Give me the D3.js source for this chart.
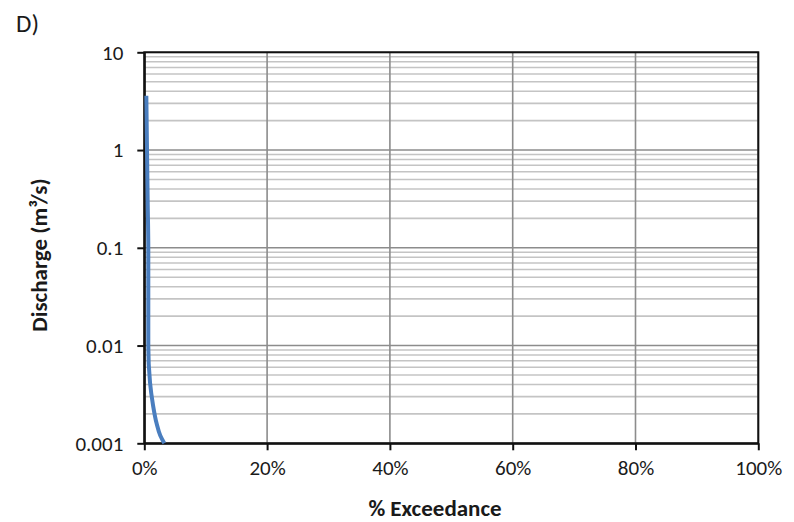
<!DOCTYPE html>
<html>
<head>
<meta charset="utf-8">
<script src="https://cdn.jsdelivr.net/npm/d3@7/dist/d3.min.js"></script>
<style>
  html, body { margin: 0; padding: 0; background: #fff; }
  svg text { font-family: Calibri, Carlito, Lato, "Open Sans", sans-serif; fill: #1a1a1a; }
</style>
</head>
<body>
<svg id="chart" width="794" height="522"></svg>
<script>
// Flow duration curve: percent of time exceeded vs discharge
const exceedance = [0.33, 0.44, 0.55, 0.65, 0.65, 0.93, 1.4, 2.0, 2.6, 3.26];
const discharge  = [3.6, 1.0, 0.3, 0.1, 0.01, 0.0042, 0.0025, 0.0016, 0.0012, 0.001];

const xTicks = [0, 20, 40, 60, 80, 100];
const yTicks = [0.001, 0.01, 0.1, 1, 10];

const svg = d3.select("#chart");
const margin = { left: 144.3, right: 794 - 758.3, top: 52.3, bottom: 522 - 443.3 };
const W = 794, H = 522;

const x = d3.scaleLinear().domain([0, 100]).range([margin.left, W - margin.right]);
const y = d3.scaleLog().domain([0.001, 10]).range([H - margin.bottom, margin.top]);

// Minor horizontal gridlines (2..9 in each decade)
const minor = [];
for (let p = -3; p < 1; p++) for (let m = 2; m <= 9; m++) minor.push(m * Math.pow(10, p));
svg.append("g").selectAll("line").data(minor).join("line")
  .attr("x1", x(0)).attr("x2", x(100))
  .attr("y1", d => y(d)).attr("y2", d => y(d))
  .attr("stroke", "#c4c4c4").attr("stroke-width", 1.6);

// Major horizontal gridlines
svg.append("g").selectAll("line").data(yTicks).join("line")
  .attr("x1", x(0)).attr("x2", x(100))
  .attr("y1", d => y(d)).attr("y2", d => y(d))
  .attr("stroke", "#8c8c8c").attr("stroke-width", 1.6);

// Vertical gridlines
svg.append("g").selectAll("line").data(xTicks).join("line")
  .attr("x1", d => x(d)).attr("x2", d => x(d))
  .attr("y1", y(10)).attr("y2", y(0.001))
  .attr("stroke", "#8c8c8c").attr("stroke-width", 1.6);

// Plot frame
svg.append("rect")
  .attr("x", x(0)).attr("y", y(10))
  .attr("width", x(100) - x(0)).attr("height", y(0.001) - y(10))
  .attr("fill", "none").attr("stroke", "#111").attr("stroke-width", 2);

// Axes
const xAxis = d3.axisBottom(x).tickValues(xTicks).tickFormat(d => d + "%")
  .tickSizeOuter(0).tickSizeInner(7).tickPadding(10);
const gx = svg.append("g").attr("transform", `translate(0,${y(0.001)})`).call(xAxis);
gx.select(".domain").attr("stroke", "#111").attr("stroke-width", 2);
gx.selectAll(".tick line").attr("stroke", "#111").attr("stroke-width", 2);
gx.selectAll("text").attr("font-size", 21).attr("dy", "0.71em").attr("fill", "#1a1a1a");

const yAxis = d3.axisLeft(y).tickValues(yTicks).tickFormat(d => String(d))
  .tickSizeOuter(0).tickSizeInner(7).tickPadding(14);
const gy = svg.append("g").attr("transform", `translate(${x(0)},0)`).call(yAxis);
gy.select(".domain").attr("stroke", "#111").attr("stroke-width", 2);
gy.selectAll(".tick line").attr("stroke", "#111").attr("stroke-width", 2);
gy.selectAll("text").attr("font-size", 21).attr("fill", "#1a1a1a");

// Curve
const pts = exceedance.map((e, i) => [e, discharge[i]]);
svg.append("path").datum(pts)
  .attr("fill", "none").attr("stroke", "#4a7ebf").attr("stroke-width", 4)
  .attr("d", d3.line().x(d => x(d[0])).y(d => y(d[1])).curve(d3.curveMonotoneY));

// Axis titles
svg.append("text").attr("x", 435).attr("y", 516)
  .attr("text-anchor", "middle").attr("font-size", 23).attr("font-weight", "bold")
  .text("% Exceedance");
svg.append("text")
  .attr("transform", `translate(47,255) rotate(-90)`)
  .attr("text-anchor", "middle").attr("font-size", 23).attr("font-weight", "bold")
  .text("Discharge (m³/s)");

// Panel label
svg.append("text").attr("x", 16).attr("y", 32).attr("font-size", 25).text("D)");
</script>
</body>
</html>
